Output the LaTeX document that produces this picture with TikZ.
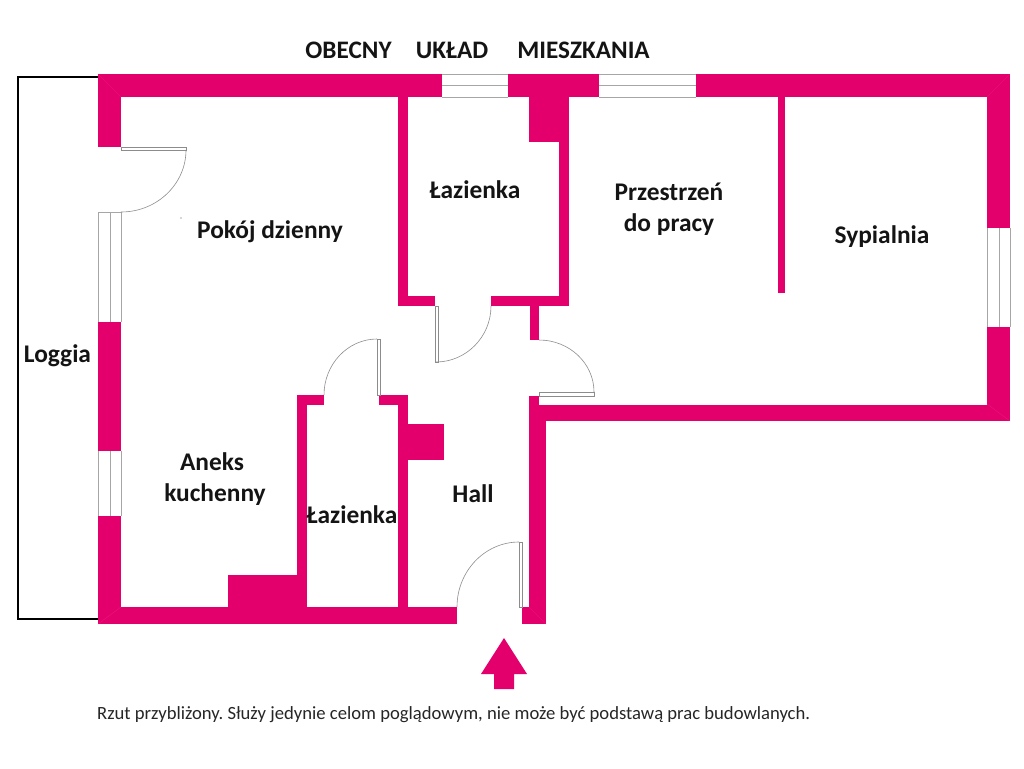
\documentclass[tikz,border=0pt]{standalone}
\usepackage{fontspec}
\setmainfont{Carlito}
\frenchspacing
\definecolor{wallpink}{HTML}{E4006C}
\definecolor{mitre}{HTML}{E81C7A}
\definecolor{wingray}{HTML}{A6A6A6}
\definecolor{doorgray}{HTML}{8C8C8C}
\tikzset{
  wall/.style={fill=wallpink,draw=none},
  winline/.style={draw=wingray,line width=0.9pt},
  doorleaf/.style={draw=doorgray,fill=white,line width=0.7pt},
  doorarc/.style={draw=doorgray,line width=0.6pt},
  loggialine/.style={draw=black,line width=2pt},
  room/.style={anchor=base,inner sep=0pt,font=\fontsize{25.4}{30}\selectfont\bfseries,text=black!92},
  titletext/.style={anchor=base,inner sep=0pt,font=\fontsize{25.2}{30}\selectfont\bfseries,text=black!92},
  note/.style={anchor=base west,inner sep=0pt,font=\fontsize{18.65}{22}\selectfont,text=black!85},
}
\begin{document}
\begin{tikzpicture}[x=1pt,y=-1pt]
\useasboundingbox (0,0) rectangle (1024,768);
% loggia
\draw[loggialine,line cap=rect] (98,77) -- (18,77) -- (18,619) -- (98,619);
% outer walls
\fill[wall] (98,74) rectangle (442,97);
\fill[wall] (508,74) rectangle (599,97);
\fill[wall] (696,74) rectangle (1010,97);
\fill[wall] (98,74) rectangle (121,147);
\fill[wall] (98,322) rectangle (121,451);
\fill[wall] (98,516) rectangle (121,624);
\fill[wall] (98,607) rectangle (457,624);
\fill[wall] (522,607) rectangle (546,624);
\fill[wall] (529,396) rectangle (539,421);
\fill[wall] (529,405) rectangle (546,624);
\fill[wall] (539,405) rectangle (1010,421);
\fill[wall] (987,74) rectangle (1010,228);
\fill[wall] (987,327) rectangle (1010,421);
% upper bathroom
\fill[wall] (398,97) rectangle (408,306);
\fill[wall] (398,296) rectangle (435,306);
\fill[wall] (491,296) rectangle (569,306);
\fill[wall] (559,97) rectangle (569,306);
\fill[wall] (529,97) rectangle (569,142);
\fill[wall] (530,306) rectangle (539,340);
% partition
\fill[wall] (778,97) rectangle (785,293);
% lower bathroom
\fill[wall] (297,395) rectangle (307,607);
\fill[wall] (297,395) rectangle (324,405);
\fill[wall] (379,395) rectangle (408,405);
\fill[wall] (398,395) rectangle (408,607);
\fill[wall] (408,424) rectangle (444,460);
\fill[wall] (228,575) rectangle (297,607);
% faint mitres
\draw[mitre,line width=0.3pt] (98,74) -- (121,97) (1010,74) -- (987,97) (1010,421) -- (987,404) (98,624) -- (121,607) (546,624) -- (529,607);
% windows
\draw[winline] (442,74) -- (508,74) (442,85) -- (508,85) (442,97) -- (508,97);
\draw[winline] (599,74) -- (696,74) (599,85) -- (696,85) (599,97) -- (696,97);
\draw[winline] (98,212) -- (98,322) (110,212) -- (110,322) (121,212) -- (121,322);
\draw[winline] (98,451) -- (98,516) (110,451) -- (110,516) (121,451) -- (121,516);
\draw[winline] (987,228) -- (987,327) (999,228) -- (999,327) (1010,228) -- (1010,327);
\draw[winline] (121,212) -- (98,212);
% doors
\draw[doorleaf] (121,147) rectangle (186,150);
\draw[doorarc] (186,150) .. controls (186,184) and (157,212) .. (121,212);
\draw[doorleaf] (435,306) rectangle (438,362);
\draw[doorarc] (436,362) .. controls (466,362) and (491,337) .. (491,306);
\draw[doorleaf] (539,392) rectangle (594,396);
\draw[doorarc] (594,392) .. controls (594,363) and (569,340) .. (539,340);
\draw[doorleaf] (377,339) rectangle (380,395);
\draw[doorarc] (377,339) .. controls (348,339) and (324,364) .. (324,395);
\draw[doorleaf] (519,542) rectangle (522,607);
\draw[doorarc] (519,542) .. controls (485,542) and (457,571) .. (457,607);
% entrance arrow
\fill[wall] (504,638) -- (527,674) -- (514,674) -- (514,689) -- (494,689) -- (494,674) -- (481,674) -- cycle;
% speck
\fill[black!70] (181,218) circle[radius=0.6];
% labels
\node[titletext] (t1) at (348.5,59) {OBECNY};
\node[titletext] (t2) at (452,59) {UKŁAD};
\node[titletext] (t3) at (583.5,59) {MIESZKANIA};
\node[room] (loggia) at (57.5,362) {Loggia};
\node[room] (pokoj) at (270,238) {Pokój dzienny};
\node[room] (laz1) at (475,198) {Łazienka};
\node[room] (prz1) at (669,200) {Przestrzeń};
\node[room] (prz2) at (669,231) {do pracy};
\node[room] (syp) at (882,243) {Sypialnia};
\node[room] (aneks) at (212,470) {Aneks};
\node[room] (kuch) at (215,501) {kuchenny};
\node[room] (laz2) at (352,523) {Łazienka};
\node[room] (hall) at (473,502) {Hall};
\node[note] (rzut) at (97,719) {Rzut przybliżony. Służy jedynie celom poglądowym, nie może być podstawą prac budowlanych.};
\end{tikzpicture}
\end{document}
